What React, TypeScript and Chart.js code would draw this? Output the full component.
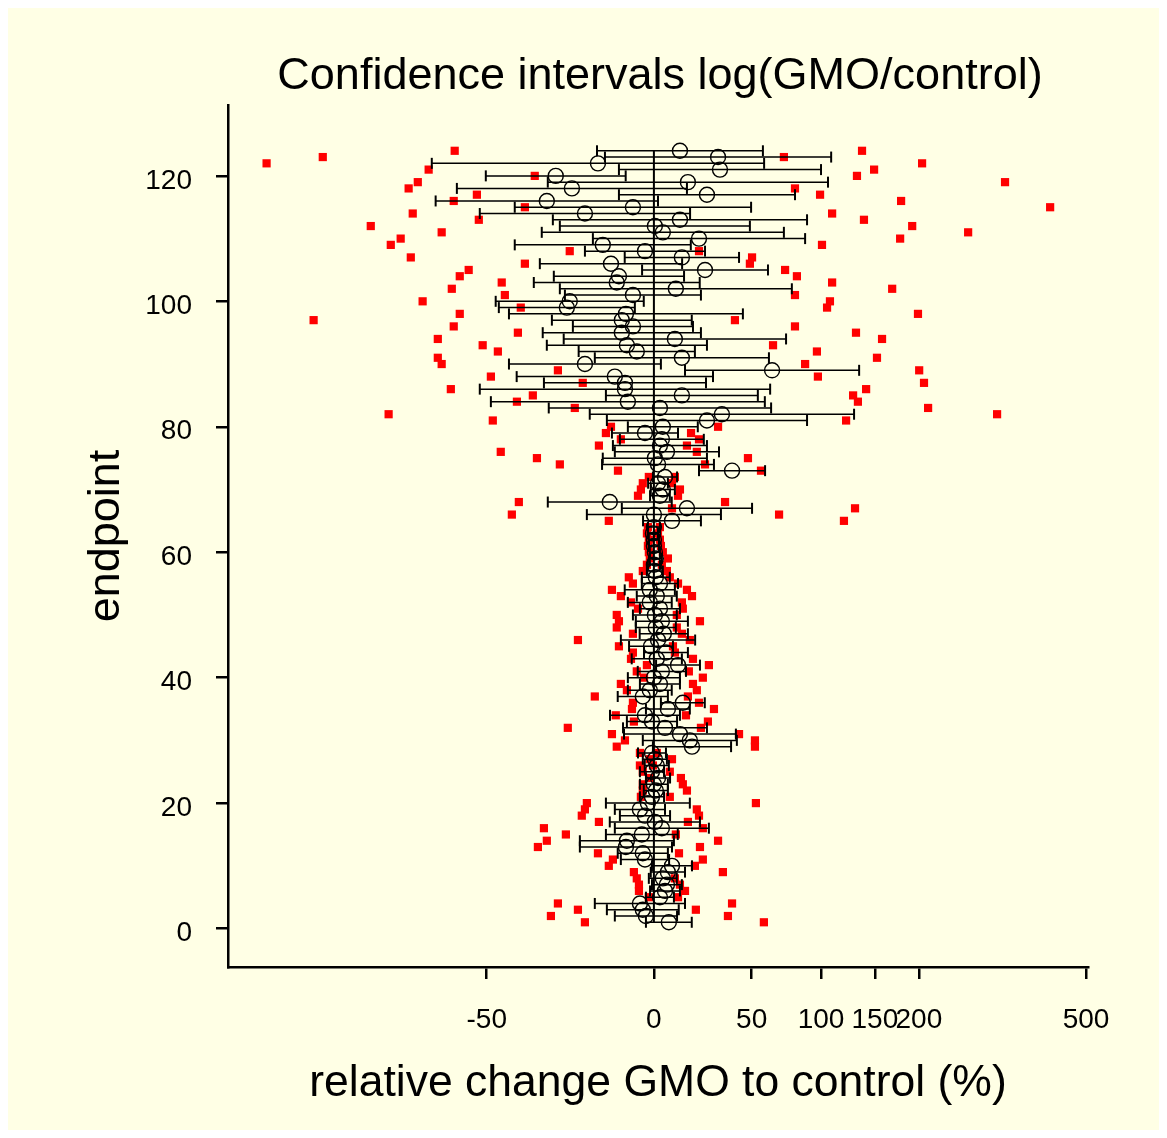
import React, { useEffect, useRef } from "react";
import { Chart, registerables } from "chart.js";

Chart.register(...registerables);

// endpoint numbers (y categories)
const endpoints: number[] = Array.from({ length: 124 }, (_, i) => i + 1);

// point estimate of log(GMO/control) per endpoint
const estimate: number[] = [
  0.062, -0.033, -0.046, -0.058, 0.025, 0.046, 0.054, 0.037, 0.058, 0.075,
  -0.037, -0.046, -0.116, -0.112, -0.05, 0.033, 0.004, -0.037, -0.058, -0.025,
  -0.008, 0.008, 0.0, 0.017, -0.008, 0.012, 0.004, -0.008, 0.158, 0.149,
  0.108, 0.046, -0.008, -0.037, 0.058, 0.12, -0.046, -0.017, 0.025, 0.0,
  0.033, 0.1, 0.012, 0.05, -0.012, 0.017, 0.041, 0.008, 0.033, 0.004,
  0.025, -0.017, 0.012, -0.017, 0.025, 0.008, 0.004, 0.0, 0.008, 0.004,
  0.0, 0.0, -0.004, 0.0, 0.075, 0.0, 0.137, -0.183, 0.025, 0.037,
  0.017, 0.046, 0.324, 0.017, 0.004, 0.054, 0.025, 0.033, -0.037, 0.037,
  0.22, 0.282, 0.025, -0.108, 0.116, -0.12, -0.12, -0.162, 0.49, -0.286,
  0.116, -0.071, -0.112, 0.087, -0.133, -0.087, -0.133, -0.116, -0.361, -0.349,
  -0.087, 0.091, -0.154, -0.145, 0.212, -0.178, 0.116, -0.037, -0.212, 0.187,
  0.037, 0.004, 0.108, -0.286, -0.087, -0.444, 0.22, -0.34, 0.141, -0.407,
  0.274, -0.232, 0.266, 0.108,
];

// half width of the confidence interval (log scale)
const halfWidth: number[] = [
  0.095, 0.129, 0.149, 0.187, 0.058, 0.062, 0.062, 0.058, 0.071, 0.083,
  0.1, 0.104, 0.191, 0.195, 0.149, 0.195, 0.187, 0.104, 0.104, 0.174,
  0.05, 0.05, 0.058, 0.05, 0.05, 0.05, 0.05, 0.058, 0.162, 0.195,
  0.232, 0.174, 0.104, 0.145, 0.091, 0.091, 0.104, 0.091, 0.083, 0.108,
  0.1, 0.091, 0.104, 0.091, 0.091, 0.154, 0.1, 0.083, 0.108, 0.091,
  0.083, 0.091, 0.083, 0.104, 0.075, 0.058, 0.033, 0.025, 0.025, 0.021,
  0.021, 0.021, 0.021, 0.025, 0.12, 0.278, 0.27, 0.257, 0.041, 0.05,
  0.041, 0.05, 0.137, 0.232, 0.216, 0.216, 0.195, 0.174, 0.137, 0.145,
  0.415, 0.548, 0.461, 0.568, 0.315, 0.602, 0.336, 0.407, 0.361, 0.315,
  0.361, 0.241, 0.332, 0.461, 0.328, 0.249, 0.29, 0.485, 0.282, 0.307,
  0.282, 0.481, 0.344, 0.27, 0.261, 0.295, 0.237, 0.249, 0.365, 0.44,
  0.502, 0.394, 0.527, 0.436, 0.49, 0.461, 0.365, 0.477, 0.581, 0.29,
  0.419, 0.689, 0.469, 0.344,
];

// individual observations (red squares), lower and upper value per endpoint
const redLow: number[] = [
  -0.286, -0.427, -0.315, -0.398, -0.021, -0.062, -0.062, -0.071, -0.083, -0.187,
  -0.17, -0.232, -0.481, -0.444, -0.365, -0.456, -0.228, -0.299, -0.286, -0.278,
  -0.054, -0.046, -0.046, -0.017, -0.046, -0.058, -0.017, -0.058, -0.154, -0.12,
  -0.174, -0.357, -0.083, -0.158, -0.091, -0.087, -0.245, -0.112, -0.137, -0.041,
  -0.071, -0.029, -0.095, -0.087, -0.145, -0.315, -0.087, -0.154, -0.145, -0.154,
  -0.066, -0.095, -0.137, -0.174, -0.087, -0.104, -0.046, -0.029, -0.017, -0.021,
  -0.025, -0.021, -0.029, -0.025, -0.187, -0.589, 0.075, -0.56, -0.066, -0.054,
  -0.046, -0.021, -0.149, -0.39, -0.485, -0.635, -0.228, -0.137, -0.199, -0.178,
  -0.668, -1.1, -0.328, -0.568, -0.502, -0.842, -0.295, -0.676, -0.398, -0.88,
  -0.896, -0.647, -0.71, -0.896, -0.564, -0.83, -1.411, -0.805, -0.552, -0.959,
  -0.618, -0.838, -0.631, -0.805, -0.768, -0.535, -1.008, -0.349, -1.091, -1.05,
  -0.88, -1.174, -0.726, -1.0, -0.535, -0.83, -0.734, -1.017, -0.979, -0.494,
  -0.934, -1.606, -1.373, -0.826,
];
const redHigh: number[] = [
  0.456, 0.307, 0.174, 0.324, 0.1, 0.129, 0.108, 0.087, 0.286, 0.17,
  0.203, 0.104, 0.191, 0.266, 0.091, 0.203, 0.141, 0.187, 0.178, 0.423,
  0.066, 0.137, 0.12, 0.112, 0.066, -0.004, 0.075, 0.012, 0.419, 0.419,
  0.353, 0.195, 0.224, 0.133, 0.249, 0.187, 0.141, 0.178, 0.162, 0.203,
  0.145, 0.228, 0.162, 0.087, 0.079, 0.149, 0.116, 0.095, 0.191, 0.095,
  0.12, 0.116, 0.158, 0.137, 0.1, 0.066, 0.054, 0.033, 0.058, 0.037,
  0.029, 0.025, 0.017, 0.025, 0.788, 0.519, 0.834, 0.295, 0.1, 0.108,
  0.075, 0.087, 0.444, 0.212, 0.39, 0.178, 0.137, 0.187, 0.154, 0.266,
  0.797, 1.423, 1.137, 0.846, 0.826, 0.88, 1.12, 0.68, 1.1, 0.627,
  0.925, 0.676, 0.494, 0.946, 0.838, 0.585, 0.336, 1.095, 0.718, 0.73,
  0.585, 0.988, 0.739, 0.593, 0.544, 0.398, 0.407, 0.187, 0.697, 1.021,
  1.303, 1.071, 0.871, 0.739, 1.643, 1.025, 0.689, 0.585, 1.456, 0.842,
  0.913, 1.112, 0.539, 0.863,
];

// axis ticks
const xTickPercent: number[] = [-50, 0, 50, 100, 150, 200, 500];
const yTicks: number[] = [0, 20, 40, 60, 80, 100, 120];

const TITLE = "Confidence intervals log(GMO/control)";
const X_TITLE = "relative change GMO to control (%)";
const Y_TITLE = "endpoint";

const W = 1151;
const H = 1122;
const FONT = '"Liberation Sans", Arial, Helvetica, sans-serif';
const BG = "#ffffe5";

export default function App() {
  const ref = useRef<HTMLCanvasElement | null>(null);

  useEffect(() => {
    if (!ref.current) return;

    const ciData: any[] = [];
    const circleData: any[] = [];
    const redData: any[] = [];
    endpoints.forEach((k, i) => {
      ciData.push({ x: estimate[i] - halfWidth[i], y: k });
      ciData.push({ x: estimate[i] + halfWidth[i], y: k });
      ciData.push({ x: null, y: null });
      circleData.push({ x: estimate[i], y: k });
      redData.push({ x: redLow[i], y: k });
      redData.push({ x: redHigh[i], y: k });
    });
    const zeroLine = [
      { x: 0, y: endpoints[0] },
      { x: 0, y: endpoints[endpoints.length - 1] },
    ];

    const bgPlugin = {
      id: "bg",
      beforeDraw(chart: any) {
        const c = chart.ctx;
        c.save();
        c.fillStyle = BG;
        c.fillRect(0, 0, chart.width, chart.height);
        c.restore();
      },
    };

    const titlePlugin = {
      id: "titles",
      afterDraw(chart: any) {
        const c = chart.ctx;
        const area = chart.chartArea;
        const cx = (area.left + area.right) / 2;
        c.save();
        c.fillStyle = "#000";
        c.textAlign = "center";
        c.textBaseline = "alphabetic";
        c.font = `45px ${FONT}`;
        c.fillText(TITLE, cx + 2, 81);
        c.font = `44.5px ${FONT}`;
        c.fillText(X_TITLE, cx, 1088);
        c.font = `45px ${FONT}`;
        c.translate(111, (area.top + area.bottom) / 2);
        c.rotate(-Math.PI / 2);
        c.fillText(Y_TITLE, 0, 0);
        c.restore();
      },
    };

    const chart = new Chart(ref.current, {
      type: "scatter",
      data: {
        datasets: [
          {
            label: "zero",
            data: zeroLine,
            showLine: true,
            borderColor: "#000",
            borderWidth: 2,
            pointRadius: 0,
            order: 0,
          },
          {
            label: "estimate",
            data: circleData,
            pointStyle: "circle",
            pointRadius: 7.5,
            backgroundColor: "rgba(0,0,0,0)",
            borderColor: "#000",
            borderWidth: 1.4,
            order: 1,
          },
          {
            label: "ci",
            data: ciData,
            showLine: true,
            spanGaps: false,
            borderColor: "#000",
            borderWidth: 1.5,
            pointStyle: "line",
            rotation: 90,
            pointRadius: 5.5,
            pointBorderColor: "#000",
            pointBorderWidth: 2,
            order: 2,
          } as any,
          {
            label: "obs",
            data: redData,
            pointStyle: "rect",
            pointRadius: 5.8,
            backgroundColor: "#ff0000",
            borderWidth: 0,
            order: 3,
          },
        ],
      },
      options: {
        responsive: false,
        animation: false,
        events: [],
        devicePixelRatio: 1,
        layout: { padding: { top: 97, right: 71, left: 0, bottom: 0 } },
        plugins: {
          legend: { display: false },
          tooltip: { enabled: false },
          title: { display: false },
        },
        scales: {
          x: {
            type: "linear",
            min: -1.766,
            max: 1.8,
            afterBuildTicks: (scale: any) => {
              scale.ticks = xTickPercent.map((p) => ({ value: Math.log(1 + p / 100) }));
            },
            afterFit: (scale: any) => {
              scale.height = 163;
            },
            grid: {
              display: true,
              drawOnChartArea: false,
              drawTicks: true,
              tickLength: 12,
              color: "#000",
              lineWidth: 2.5,
            },
            border: { display: true, color: "#000", width: 2.5 },
            ticks: {
              autoSkip: false,
              maxRotation: 0,
              minRotation: 0,
              padding: 24,
              color: "#000",
              font: { family: FONT, size: 28 },
              callback: (_v: any, index: number) => String(xTickPercent[index]),
            },
          },
          y: {
            type: "linear",
            min: -6.13,
            max: 131.3,
            afterBuildTicks: (scale: any) => {
              scale.ticks = yTicks.map((v) => ({ value: v }));
            },
            afterFit: (scale: any) => {
              scale.width = 220;
            },
            grid: {
              display: true,
              drawOnChartArea: false,
              drawTicks: true,
              tickLength: 12,
              color: "#000",
              lineWidth: 2.5,
            },
            border: { display: true, color: "#000", width: 2.5 },
            ticks: {
              autoSkip: false,
              padding: 24,
              labelOffset: 5,
              color: "#000",
              font: { family: FONT, size: 28 },
              callback: (_v: any, index: number) => String(yTicks[index]),
            },
          },
        },
      } as any,
      plugins: [bgPlugin, titlePlugin],
    });

    return () => chart.destroy();
  }, []);

  return (
    <div>
      <canvas ref={ref} width={W} height={H} style={{ display: "block", width: W, height: H }} />
    </div>
  );
}
